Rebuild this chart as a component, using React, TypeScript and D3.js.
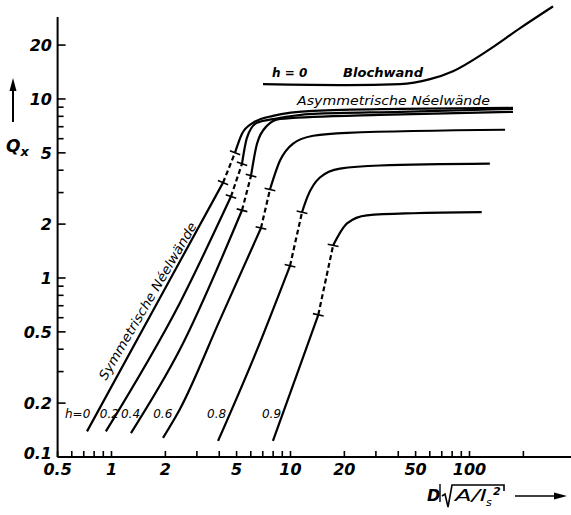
import React from "react";
import * as d3 from "d3";

// axis ticks
const xMajor = [0.5, 1, 2, 5, 10, 20, 50, 100];
const xMinor = [0.6, 0.7, 0.8, 0.9, 3, 4, 6, 7, 8, 9, 30, 40, 60, 70, 80, 90, 200];
const yMajor = [0.1, 0.2, 0.5, 1, 2, 5, 10, 20];
const yMinor = [0.3, 0.4, 0.6, 0.7, 0.8, 0.9, 3, 4, 6, 7, 8, 9];

// curves [D*sqrt(A/Is^2), Qx]; "low" ends at the first cross mark, "up" starts at the second
const lowH00 = [[0.73, 0.139], [2, 0.88], [4.2, 3.41]];
const upH00 = [[4.9, 5.01], [5.36, 6.39], [6.17, 7.36], [7.98, 8.05], [13.4, 8.58], [40.9, 8.8], [175, 8.91]];
const lowH02 = [[0.93, 0.139], [2.41, 0.726], [4.65, 2.85]];
const upH02 = [[5.36, 4.35], [5.71, 6.07], [6.5, 7.36], [8.19, 7.74], [13.4, 8.25], [40.9, 8.47], [175, 8.8]];
const lowH04 = [[1.285, 0.136], [2.41, 0.398], [5.36, 2.39]];
const upH04 = [[6.02, 3.73], [6.5, 5.62], [7.39, 7.08], [8.74, 7.74], [13.4, 7.94], [31.6, 8.15], [175, 8.47]];
const lowH06 = [[1.94, 0.128], [2.41, 0.185], [4.04, 0.585], [6.84, 1.9]];
const upH06 = [[7.68, 3.12], [8.74, 4.53], [10.3, 5.62], [13.4, 6.23], [20.7, 6.47], [158, 6.73]];
const lowH08 = [[3.94, 0.123], [6.34, 0.373], [9.94, 1.17]];
const upH08 = [[11.6, 2.33], [12.4, 2.82], [14.6, 3.64], [18.9, 4.08], [31.6, 4.25], [130, 4.35]];
const lowH09 = [[7.98, 0.123], [10.7, 0.278], [14.3, 0.623]];
const upH09 = [[17.3, 1.52], [20.7, 2.02], [26.7, 2.24], [48.3, 2.3], [117, 2.33]];

// Bloch wall, h = 0
const bloch = [[7.02, 12.1], [20.7, 11.96], [40.9, 12.1], [60.2, 12.9], [80.9, 14.3], [125, 18.5], [191, 24.8], [293, 32.9]];

// curve labels and where they sit (data units, left edge / baseline)
const hLabels = ["h=0", "0.2", "0.4", "0.6", "0.8", "0.9"];
const hLabelX = [0.55, 0.86, 1.13, 1.71, 3.42, 6.93];
const hLabelQ = 0.165;

const font = "'DejaVu Sans', sans-serif";

export default function App() {
  const x = d3.scaleLog().domain([0.5, 370]).range([57.6, 571.2]);
  const y = d3.scaleLog().domain([0.1, 28.7]).range([457, 17]);

  const smooth = d3
    .line<number[]>()
    .x(d => x(d[0]))
    .y(d => y(d[1]))
    .curve(d3.curveMonotoneX);
  const straight = d3
    .line<number[]>()
    .x(d => x(d[0]))
    .y(d => y(d[1]));

  const curves = [
    [lowH00, upH00],
    [lowH02, upH02],
    [lowH04, upH04],
    [lowH06, upH06],
    [lowH08, upH08],
    [lowH09, upH09],
  ];

  // short cross mark perpendicular to the dashed part
  const cross = (p: number[], a: number[], b: number[], key: string) => {
    const dx = x(b[0]) - x(a[0]);
    const dy = y(b[1]) - y(a[1]);
    const len = Math.hypot(dx, dy);
    const nx = (-dy / len) * 5.5;
    const ny = (dx / len) * 5.5;
    const cx = x(p[0]);
    const cy = y(p[1]);
    return (
      <line key={key} x1={cx - nx} y1={cy - ny} x2={cx + nx} y2={cy + ny} stroke="#000" strokeWidth={1.6} />
    );
  };

  const x0 = x(0.5);
  const y0 = y(0.1);

  return (
    <svg
      width={571}
      height={515}
      style={{ position: "absolute", left: 0, top: 0, background: "#fff" }}
      fontFamily={font}
    >
      <rect width={571} height={515} fill="#fff" />

      {/* axes */}
      <line x1={x0} y1={y0} x2={571} y2={y0} stroke="#000" strokeWidth={2} />
      <line x1={x0} y1={y0} x2={x0} y2={17} stroke="#000" strokeWidth={2} />

      {xMajor.concat(xMinor).map(v => (
        <line key={"xt" + v} x1={x(v)} x2={x(v)} y1={y0} y2={y0 - 6} stroke="#000" strokeWidth={1.6} />
      ))}
      {yMajor.concat(yMinor).map(v => (
        <line key={"yt" + v} x1={x0} x2={x0 + (yMajor.includes(v) ? 8 : 6)} y1={y(v)} y2={y(v)} stroke="#000" strokeWidth={1.6} />
      ))}

      {xMajor.map(v => (
        <text
          key={"xl" + v}
          x={x(v)}
          y={475}
          textAnchor="middle"
          fontSize={16}
          fontStyle="italic"
          fontWeight="bold"
        >
          {String(v)}
        </text>
      ))}
      {yMajor.map(v => (
        <text
          key={"yl" + v}
          x={52}
          y={y(v) + (v === 0.1 ? 2 : 6)}
          textAnchor="end"
          fontSize={16}
          fontStyle="italic"
          fontWeight="bold"
        >
          {String(v)}
        </text>
      ))}

      {/* curves */}
      {curves.map(([low, up], i) => {
        const a = low[low.length - 1];
        const b = up[0];
        return (
          <g key={"c" + i} fill="none" stroke="#000">
            <path d={smooth(low) || ""} strokeWidth={2.2} />
            <path d={straight([a, b]) || ""} strokeWidth={2.2} strokeDasharray="5 3" />
            <path d={smooth(up) || ""} strokeWidth={2.2} />
            {cross(a, a, b, "ca")}
            {cross(b, a, b, "cb")}
          </g>
        );
      })}
      <path d={smooth(bloch) || ""} fill="none" stroke="#000" strokeWidth={2.2} />

      {/* curve labels */}
      {hLabels.map((t, i) => (
        <text key={"h" + i} x={x(hLabelX[i])} y={y(hLabelQ)} fontSize={12} fontStyle="italic">
          {t}
        </text>
      ))}
      <text x={272} y={77} fontSize={12} fontStyle="italic" fontWeight="bold">h = 0</text>
      <text x={343} y={77} fontSize={13} fontStyle="italic" fontWeight="bold" textLength={80} lengthAdjust="spacingAndGlyphs">
        Blochwand
      </text>
      <text x={297} y={105} fontSize={13} fontStyle="italic" textLength={193} lengthAdjust="spacingAndGlyphs">
        Asymmetrische Néelwände
      </text>
      <text
        transform="translate(106,381) rotate(-59.6)"
        fontSize={13}
        fontStyle="italic"
        textLength={180}
        lengthAdjust="spacingAndGlyphs"
      >
        Symmetrische Néelwände
      </text>

      {/* y title */}
      <line x1={13} y1={122} x2={13} y2={88} stroke="#000" strokeWidth={2} />
      <polygon points="13,78 9.5,91 16.5,91" fill="#000" />
      <text x={6} y={152} fontSize={17} fontStyle="italic" fontWeight="bold">
        Q<tspan fontSize={13} dy={4}>x</tspan>
      </text>

      {/* x title */}
      <text x={427} y={501} fontSize={16} fontStyle="italic" fontWeight="bold">D</text>
      <line x1={440} y1={484} x2={440} y2={502} stroke="#000" strokeWidth={1.4} />
      <path d="M442,496 L445,494 L448,507 L452,485 L504,485 L504,491" fill="none" stroke="#000" strokeWidth={1.6} />
      <text x={455} y={501} fontSize={16} fontStyle="italic" textLength={32} lengthAdjust="spacingAndGlyphs">A/I</text>
      <text x={486} y={506} fontSize={11} fontStyle="italic">s</text>
      <text x={493} y={495} fontSize={11} fontStyle="italic" fontWeight="bold">2</text>
      <line x1={515} y1={496} x2={556} y2={496} stroke="#000" strokeWidth={1.6} />
      <polygon points="567,496 554,492.5 554,499.5" fill="#000" />
    </svg>
  );
}
